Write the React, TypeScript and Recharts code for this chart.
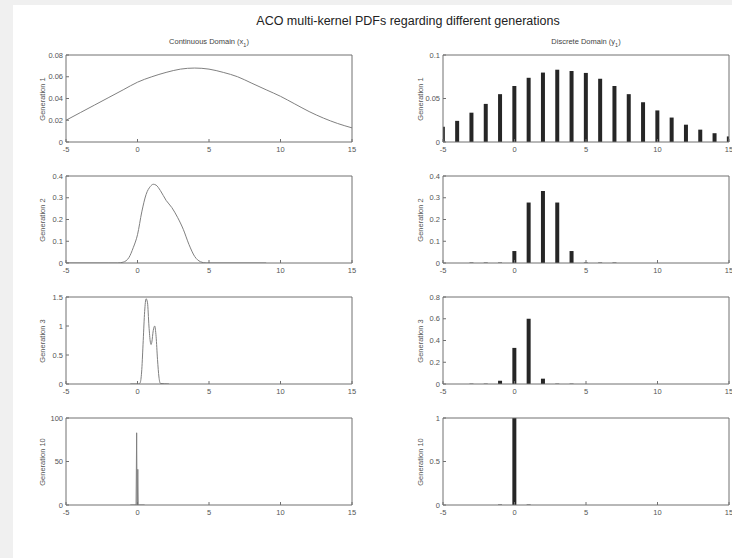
import React from "react";
import { LineChart, Line, BarChart, Bar, XAxis, YAxis } from "recharts";

const X_TICKS = [-5, 0, 5, 10, 15];

// continuous domain
const cont1X = [-5, -4, -3, -2, -1, 0, 1, 2, 3, 4, 5, 6, 7, 8, 9, 10, 11, 12, 13, 14, 15];
const cont1Y = [0.02, 0.027, 0.034, 0.041, 0.048, 0.055, 0.06, 0.064, 0.067, 0.068, 0.067, 0.064, 0.06, 0.054, 0.048, 0.042, 0.035, 0.028, 0.022, 0.017, 0.013];

const cont2X = [-5, -2, -1.4, -1, -0.6, -0.3, 0, 0.3, 0.6, 0.9, 1.1, 1.3, 1.6, 2, 2.4, 2.8, 3.2, 3.6, 4, 4.4, 4.8, 9];
const cont2Y = [0, 0, 0, 0.004, 0.025, 0.07, 0.13, 0.235, 0.315, 0.352, 0.362, 0.358, 0.333, 0.288, 0.255, 0.21, 0.155, 0.085, 0.03, 0.006, 0, 0];

const cont3X = [-0.5, 0.1, 0.2, 0.3, 0.4, 0.5, 0.6, 0.7, 0.8, 0.9, 0.95, 1, 1.1, 1.2, 1.3, 1.4, 1.5, 1.6, 2.2];
const cont3Y = [0, 0, 0.03, 0.25, 0.75, 1.25, 1.47, 1.4, 1.0, 0.72, 0.68, 0.72, 0.92, 1.0, 0.82, 0.42, 0.12, 0.01, 0];

const cont10X = [-0.5, -0.1, -0.06, -0.03, -0.01, 0.02, 0.05, 0.5];
const cont10Y = [0, 0, 83, 0, 0, 41, 0, 0];

// discrete domain, one bar per integer
const discX = [-5, -4, -3, -2, -1, 0, 1, 2, 3, 4, 5, 6, 7, 8, 9, 10, 11, 12, 13, 14, 15];
const disc1 = [0.0176, 0.0243, 0.0337, 0.0438, 0.055, 0.0644, 0.0738, 0.0798, 0.0831, 0.0816, 0.0794, 0.0727, 0.0644, 0.055, 0.0457, 0.0363, 0.0281, 0.0199, 0.0142, 0.0101, 0.0064];
const disc2 = [0, 0, 0.002, 0.002, 0.002, 0.055, 0.278, 0.331, 0.278, 0.055, 0.002, 0.002, 0.002, 0, 0, 0, 0, 0, 0, 0, 0];
const disc3 = [0, 0, 0.003, 0.003, 0.03, 0.332, 0.6, 0.049, 0.003, 0.003, 0, 0, 0, 0, 0, 0, 0, 0, 0, 0, 0];
const disc10 = [0, 0, 0, 0, 0.005, 1, 0.005, 0, 0, 0, 0, 0, 0, 0, 0, 0, 0, 0, 0, 0, 0];

const zip = (xs: number[], ys: number[]) => xs.map((x, i) => ({ x, y: ys[i] }));

const ROWS = [
  { label: "Generation 1", cont: zip(cont1X, cont1Y), contTicks: [0, 0.02, 0.04, 0.06, 0.08], disc: zip(discX, disc1), discTicks: [0, 0.05, 0.1] },
  { label: "Generation 2", cont: zip(cont2X, cont2Y), contTicks: [0, 0.1, 0.2, 0.3, 0.4], disc: zip(discX, disc2), discTicks: [0, 0.1, 0.2, 0.3, 0.4] },
  { label: "Generation 3", cont: zip(cont3X, cont3Y), contTicks: [0, 0.5, 1, 1.5], disc: zip(discX, disc3), discTicks: [0, 0.2, 0.4, 0.6, 0.8] },
  { label: "Generation 10", cont: zip(cont10X, cont10Y), contTicks: [0, 50, 100], disc: zip(discX, disc10), discTicks: [0, 0.5, 1] },
];

const FONT = "'Liberation Sans', Arial, sans-serif";
const AXIS = "#707070";
const TICK_TXT = { fontSize: 7.5, fill: "#555", fontFamily: FONT };

const PLOT_W = 286;
const PLOT_H = 87;
const Y_W = 30;
const M_TOP = 6;
const M_RIGHT = 6;
const X_H = 18;
const COL_LEFT = [66, 443];
const ROW_TOP = [55, 176, 297, 418];

function Axes({ yTicks }: { yTicks: number[] }) {
  const yDomain = [yTicks[0], yTicks[yTicks.length - 1]];
  return (
    <>
      <XAxis xAxisId="x" dataKey="x" type="number" domain={[-5, 15]} ticks={X_TICKS} allowDataOverflow
        height={X_H} tickSize={-3} tickMargin={8} tickLine={{ stroke: AXIS }} axisLine={{ stroke: AXIS }} tick={TICK_TXT} interval={0} />
      <XAxis xAxisId="top" orientation="top" mirror type="number" domain={[-5, 15]} ticks={X_TICKS} allowDataOverflow
        tick={false} tickSize={3} tickLine={{ stroke: AXIS }} axisLine={{ stroke: AXIS }} />
      <YAxis yAxisId="y" type="number" domain={yDomain} ticks={yTicks} allowDataOverflow
        width={Y_W} tickSize={-3} tickMargin={6} tickLine={{ stroke: AXIS }} axisLine={{ stroke: AXIS }} tick={TICK_TXT} interval={0} />
      <YAxis yAxisId="right" orientation="right" mirror type="number" domain={yDomain} ticks={yTicks} allowDataOverflow
        tick={false} tickSize={3} tickLine={{ stroke: AXIS }} axisLine={{ stroke: AXIS }} />
    </>
  );
}

function box(col: number, row: number): React.CSSProperties {
  return { position: "absolute", left: COL_LEFT[col] - Y_W, top: ROW_TOP[row] - M_TOP };
}

const chartW = Y_W + PLOT_W + M_RIGHT;
const chartH = M_TOP + PLOT_H + X_H;
const margin = { top: M_TOP, right: M_RIGHT, left: 0, bottom: 0 };

function YLabel({ text, x, row }: { text: string; x: number; row: number }) {
  return (
    <div style={{
      position: "absolute", left: x - 40, top: ROW_TOP[row] + PLOT_H / 2 - 5, width: 80, height: 10,
      textAlign: "center", fontSize: 7.5, lineHeight: "10px", color: "#555", fontFamily: FONT,
      transform: "rotate(-90deg)",
    }}>{text}</div>
  );
}

export default function App() {
  return (
    <div style={{ position: "absolute", left: 0, top: 0, width: 732, height: 558, background: "#f0f0f0", overflow: "hidden" }}>
      <div style={{ position: "absolute", left: 13, top: 5, width: 719, height: 553, background: "#fff" }} />
      <div style={{ position: "absolute", left: 0, top: 14, width: 816, textAlign: "center", fontFamily: FONT, fontSize: 12.5, color: "#222" }}>
        ACO multi-kernel PDFs regarding different generations
      </div>
      <div style={{ position: "absolute", left: COL_LEFT[0], top: 37, width: PLOT_W, textAlign: "center", fontFamily: FONT, fontSize: 7.5, color: "#444" }}>
        Continuous Domain (x<sub style={{ fontSize: 5.5 }}>1</sub>)
      </div>
      <div style={{ position: "absolute", left: COL_LEFT[1], top: 37, width: PLOT_W, textAlign: "center", fontFamily: FONT, fontSize: 7.5, color: "#444" }}>
        Discrete Domain (y<sub style={{ fontSize: 5.5 }}>1</sub>)
      </div>
      {ROWS.map((r, i) => (
        <React.Fragment key={r.label}>
          <div style={box(0, i)}>
            <LineChart width={chartW} height={chartH} data={r.cont} margin={margin}>
              {Axes({ yTicks: r.contTicks })}
              <Line xAxisId="x" yAxisId="y" dataKey="y" type={i === 3 ? "linear" : "monotone"} stroke="#808080" strokeWidth={1} dot={false} isAnimationActive={false} />
            </LineChart>
          </div>
          <div style={box(1, i)}>
            <BarChart width={chartW} height={chartH} data={r.disc} margin={margin}>
              {Axes({ yTicks: r.discTicks })}
              <Bar xAxisId="x" yAxisId="y" dataKey="y" fill="#262626" barSize={4} isAnimationActive={false} />
            </BarChart>
          </div>
          <YLabel text={r.label} x={43} row={i} />
          <YLabel text={r.label} x={421} row={i} />
        </React.Fragment>
      ))}
    </div>
  );
}
